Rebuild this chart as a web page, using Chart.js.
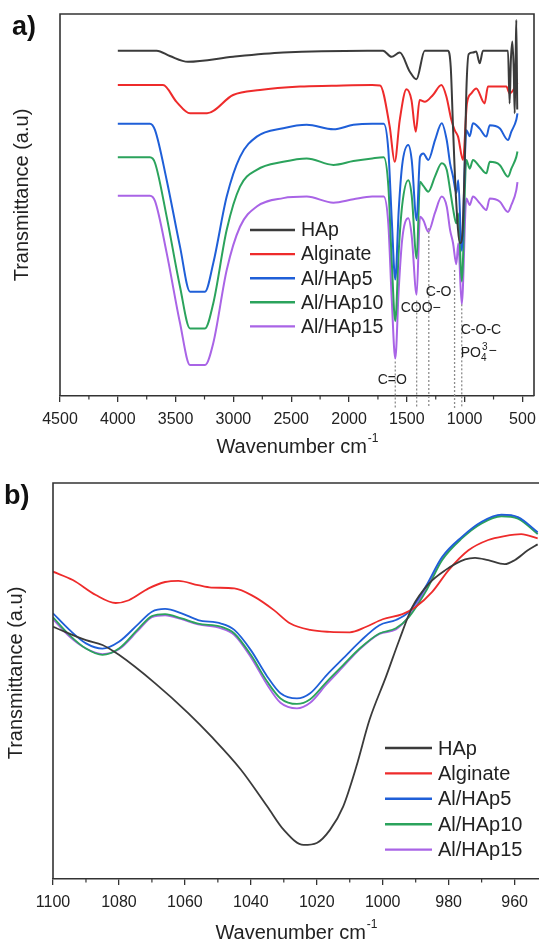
<!DOCTYPE html>
<html>
<head>
<meta charset="utf-8">
<title>FTIR spectra</title>
<script src="https://cdn.jsdelivr.net/npm/chart.js@4.4.1/dist/chart.umd.min.js"></script>
<style>
  html, body { margin: 0; padding: 0; background: #fff; overflow: hidden; }
  body { width: 539px; height: 944px; position: relative; }
  .panel { position: absolute; left: 0; width: 539px; }
  #panelA { top: 0; height: 460px; }
  #panelB { top: 460px; height: 484px; }
</style>
</head>
<body>
<div class="panel" id="panelA"><canvas id="chartA"></canvas></div>
<div class="panel" id="panelB"><canvas id="chartB"></canvas></div>
<script>
// series names + colours (same in both panels)
const seriesNames = ['HAp', 'Alginate', 'Al/HAp5', 'Al/HAp10', 'Al/HAp15'];
const seriesColors = ['#3b3b3b', '#ee2b2b', '#1f5fd8', '#2ba35c', '#a964e6'];

// ---- panel a: full spectra, wavenumber (cm-1) vs transmittance (a.u.) ----
const hapWaveA = [4000, 3664, 3550, 3393, 3003, 2571, 1844, 1706, 1633, 1561,
  1474, 1417, 1345, 1144, 1120, 1100, 1075, 1040, 1020, 1000,
  985, 965, 928, 900, 870, 841, 625, 611, 600, 587,
  575, 567, 558, 553, 545];
const hapValA = [90.4, 90.4, 89.0, 87.5, 88.8, 89.9, 90.4, 90.4, 88.8, 89.9,
  84.9, 82.9, 90.4, 90.4, 86, 70, 52, 40, 42, 60,
  80, 89.5, 89.9, 90.2, 87.1, 90.4, 90.4, 76.6, 88, 92.8,
  85, 74, 90, 98.4, 75];

const algWaveA = [4000, 3609, 3492, 3375, 3228, 3003, 2770, 2424, 2150, 1800,
  1732, 1648, 1605, 1561, 1503, 1460, 1423, 1389, 1345, 1274,
  1201, 1158, 1115, 1086, 1057, 1014, 980, 942, 899, 827,
  798, 639, 611, 553, 543];
const algValA = [81.4, 81.4, 77.0, 74.0, 74.0, 78.8, 80.1, 81.0, 81.2, 81.4,
  81.3, 70.5, 61.3, 72.3, 80.3, 77.5, 69.2, 77.5, 77.0, 78.8,
  81.4, 78.4, 72.3, 69.6, 67.9, 61.8, 76.6, 79.2, 80.5, 76.6,
  81.0, 81.0, 79.2, 81.4, 82];

// composites share one wavenumber grid
const compWaveA = [4000, 3722, 3678, 3577, 3462, 3375, 3246, 3174, 3058, 2943,
  2798, 2569, 2366, 2135, 1962, 1800, 1700, 1660, 1630, 1600,
  1570, 1540, 1487, 1458, 1415, 1386, 1357, 1314, 1256, 1198,
  1155, 1126, 1100, 1072, 1055, 1025, 985, 956, 928, 870,
  812, 783, 697, 625, 596, 553, 543];
const ap5ValA = [71.3, 71.3, 69.6, 56.5, 39.1, 27.3, 27.3, 34.8, 52.2, 62.6,
  67.9, 70.1, 71.0, 69.8, 71.0, 71.3, 71.3, 64.4, 46, 30.5,
  48.7, 60.5, 65.7, 61.8, 46.0, 62.6, 63.5, 61.8, 67.0, 71.4,
  67.0, 60.9, 57.4, 53.1, 56.5, 38, 69.6, 68, 71.4, 70,
  67.9, 70.9, 70.1, 67.0, 69.2, 72.3, 74];
const ap10ValA = [62.5, 62.5, 61, 46.9, 28.6, 17.7, 17.7, 24.3, 43.5, 54.8,
  59.2, 61.3, 62.2, 60.5, 61.5, 62.2, 62.5, 55, 35, 19.6,
  38, 50, 56.5, 52.5, 36, 56.1, 55, 53.5, 57.5, 60.9,
  59.2, 54, 49, 45.2, 47.8, 30, 61.8, 59.5, 61.8, 60,
  58.3, 61.3, 60.5, 57.4, 59.5, 62.6, 64];
const ap15ValA = [52.4, 52.4, 51, 37.4, 19.1, 8.1, 8.1, 13.9, 33.0, 44.3,
  49.6, 51.8, 52.2, 50.6, 51.5, 52.2, 52.2, 45, 25, 9.8,
  28, 41, 46.5, 42, 26.5, 46.9, 46, 43, 48, 52.2,
  49.6, 43.5, 40, 34.5, 40, 24, 51.7, 50, 52.2, 50.5,
  48.7, 51.7, 50.9, 48.2, 50, 53.9, 56];

const ticksA = [4500, 4000, 3500, 3000, 2500, 2000, 1500, 1000, 500];
const minorTicksA = [4250, 3750, 3250, 2750, 2250, 1750, 1250, 750];

// assigned bands (dotted markers)
const peakWaves = [1600, 1415, 1310, 1087, 1025];
const peakTops = [9, 25, 44, 33, 24];

// ---- panel b: zoom 1100-950 cm-1 ----
const hapWaveB = [1100, 1090, 1085, 1080, 1069, 1059, 1052, 1043, 1035, 1030,
  1024, 1020, 1016, 1012, 1008, 1004, 999, 995, 991, 986,
  981, 975, 972, 968, 963, 960, 956, 953];
const hapValB = [63.7, 60.3, 59.1, 56.6, 49.4, 41.9, 36.0, 27.6, 18.3, 12.4,
  8.6, 9.1, 12.4, 18.3, 28.4, 40.2, 51.1, 60.3, 68.7, 74.6,
  78.0, 80.7, 81.1, 80.5, 79.5, 80.5, 83.0, 84.5];

const algWaveB = [1100, 1094, 1087, 1081, 1077, 1071, 1066, 1062, 1056, 1052,
  1045, 1039, 1033, 1028, 1022, 1016, 1010, 1005, 1000, 994,
  990, 985, 980, 974, 968, 963, 958, 953];
const algValB = [77.6, 75.5, 71.7, 69.7, 70.4, 73.4, 75.0, 75.3, 74.2, 73.6,
  73.4, 71.3, 67.9, 64.5, 62.9, 62.4, 62.3, 63.7, 65.6, 66.9,
  68.7, 72.5, 78.0, 83.0, 85.6, 86.6, 87.1, 86.0];

const compWaveB = [1100, 1095, 1090, 1085, 1080, 1074, 1070, 1066, 1061, 1056,
  1049, 1045, 1040, 1035, 1031, 1026, 1022, 1017, 1012, 1007,
  1001, 996, 992, 987, 982, 976, 970, 964, 959, 953];
const ap5ValB = [67.1, 62.9, 59.5, 58.2, 59.9, 64.5, 67.5, 68.2, 67.1, 65.4,
  64.5, 62.9, 57.8, 51.1, 46.9, 45.6, 46.9, 51.5, 55.7, 59.9,
  64.1, 65.4, 67.5, 73.8, 81.3, 86.4, 90.2, 92.0, 91.4, 87.6];
const ap10ValB = [66.1, 61.6, 58.2, 56.6, 58.2, 63.3, 66.4, 66.9, 65.8, 64.5,
  63.7, 62.0, 56.6, 49.8, 45.6, 44.2, 45.4, 49.8, 54.0, 58.2,
  62.0, 63.3, 66.2, 72.5, 80.5, 86.0, 89.8, 91.6, 91.0, 87.1];
const ap15ValB = [65.6, 61.2, 58.2, 56.8, 58.0, 62.9, 66.1, 66.6, 65.6, 64.3,
  63.3, 61.6, 56.0, 49.0, 44.5, 43.1, 44.5, 49.2, 53.6, 58.0,
  61.9, 63.0, 66.4, 73.1, 80.9, 86.2, 90.0, 91.9, 91.3, 87.2];

const ticksB = [1100, 1080, 1060, 1040, 1020, 1000, 980, 960];
const minorTicksB = [1090, 1070, 1050, 1030, 1010, 990, 970];

// ---------------------------------------------------------------
const FONT = "'Liberation Sans', Arial, sans-serif";
Chart.defaults.font.family = FONT;
Chart.defaults.color = '#222';

function pairs(xs, ys) {
    return xs.map((w, i) => ({ x: w, y: ys[i] }));
}

function makeDatasets(list, width) {
    return list.map((pts, i) => ({
        label: seriesNames[i],
        data: pts,
        borderColor: seriesColors[i],
        backgroundColor: seriesColors[i],
        borderWidth: width,
        pointRadius: 0,
        fill: false,
        cubicInterpolationMode: 'monotone'
    }));
}

// frame, minor ticks, titles, legend, panel letter
function decorPlugin(opts) {
    return {
        id: 'decor',
        afterDraw(chart) {
            const { ctx, chartArea: ca, scales: { x } } = chart;
            ctx.save();
            ctx.strokeStyle = '#333';
            ctx.lineWidth = 1.6;
            ctx.beginPath();
            ctx.moveTo(ca.left, ca.bottom);
            ctx.lineTo(ca.left, ca.top);
            ctx.lineTo(ca.right, ca.top);
            if (opts.rightBorder) ctx.lineTo(ca.right, ca.bottom);
            ctx.stroke();

            // minor ticks
            ctx.lineWidth = 1.2;
            opts.minor.forEach(v => {
                const px = x.getPixelForValue(v);
                ctx.beginPath();
                ctx.moveTo(px, ca.bottom);
                ctx.lineTo(px, ca.bottom + 3.5);
                ctx.stroke();
            });

            // x title with superscript
            ctx.fillStyle = '#222';
            ctx.textBaseline = 'middle';
            ctx.textAlign = 'left';
            const main = 'Wavenumber cm';
            const sup = '-1';
            ctx.font = '20px ' + FONT;
            const mw = ctx.measureText(main).width;
            ctx.font = '12px ' + FONT;
            const sw = ctx.measureText(sup).width;
            const cx = (ca.left + opts.titleRight) / 2;
            const sx = cx - (mw + sw) / 2;
            ctx.font = '20px ' + FONT;
            ctx.fillText(main, sx, opts.xTitleY);
            ctx.font = '12px ' + FONT;
            ctx.fillText(sup, sx + mw + 1, opts.xTitleY - 8);

            // y title
            ctx.save();
            ctx.translate(opts.yTitleX, opts.yTitleY);
            ctx.rotate(-Math.PI / 2);
            ctx.textAlign = 'center';
            ctx.font = '20px ' + FONT;
            ctx.fillText('Transmittance (a.u)', 0, 0);
            ctx.restore();

            // panel letter
            ctx.font = 'bold 27px ' + FONT;
            ctx.fillStyle = '#111';
            ctx.fillText(opts.letter, opts.letterX, opts.letterY);

            // legend
            const lg = opts.legend;
            chart.data.datasets.forEach((ds, i) => {
                const ly = lg.y + i * lg.dy;
                ctx.strokeStyle = ds.borderColor;
                ctx.lineWidth = 2.4;
                ctx.beginPath();
                ctx.moveTo(lg.x, ly);
                ctx.lineTo(lg.x + lg.len, ly);
                ctx.stroke();
                ctx.fillStyle = '#222';
                ctx.font = lg.size + 'px ' + FONT;
                ctx.textAlign = 'left';
                ctx.fillText(ds.label, lg.x + lg.len + 6, ly + 1);
            });
            ctx.restore();
        }
    };
}

// dotted band markers + assignments (panel a only)
const peakPlugin = {
    id: 'peaks',
    afterDatasetsDraw(chart) {
        const { ctx, chartArea: ca, scales: { x, y } } = chart;
        ctx.save();
        ctx.strokeStyle = '#8c8c8c';
        ctx.lineWidth = 1.3;
        ctx.setLineDash([2, 2]);
        peakWaves.forEach((w, i) => {
            const px = x.getPixelForValue(w);
            ctx.beginPath();
            ctx.moveTo(px, y.getPixelForValue(peakTops[i]));
            ctx.lineTo(px, ca.bottom + 12);
            ctx.stroke();
        });
        ctx.setLineDash([]);

        ctx.fillStyle = '#222';
        ctx.font = '14px ' + FONT;
        ctx.textBaseline = 'middle';
        ctx.textAlign = 'center';
        ctx.fillText('C=O', x.getPixelForValue(peakWaves[0]) - 3, y.getPixelForValue(4.2));
        ctx.textAlign = 'left';
        ctx.fillText('COO\u2212', x.getPixelForValue(peakWaves[1]) - 16, y.getPixelForValue(22.9));
        ctx.fillText('C-O', x.getPixelForValue(peakWaves[2]) - 3, y.getPixelForValue(27.2));
        const lx = x.getPixelForValue(peakWaves[4]) - 1;
        ctx.fillText('C-O-C', lx, y.getPixelForValue(17.3));
        const py = y.getPixelForValue(11.1);
        ctx.fillText('PO', lx, py);
        const pw = ctx.measureText('PO').width;
        ctx.font = '10px ' + FONT;
        ctx.fillText('4', lx + pw, py + 5);
        ctx.fillText('3', lx + pw + 1, py - 6);
        const sw = ctx.measureText('3').width;
        ctx.font = '14px ' + FONT;
        ctx.fillText('\u2212', lx + pw + sw + 2, py - 2);
        ctx.restore();
    }
};

function xScale(min, max, ticks, height) {
    return {
        type: 'linear',
        reverse: true,
        min: min,
        max: max,
        afterBuildTicks: s => { s.ticks = ticks.map(v => ({ value: v })); },
        afterFit: s => { s.height = height; },
        ticks: {
            font: { size: 16, lineHeight: 1.8 },
            color: '#222',
            padding: 3,
            maxRotation: 0,
            autoSkip: false,
            callback: v => String(v)
        },
        grid: { drawOnChartArea: false, tickLength: 6, color: '#333', lineWidth: 1.3 },
        border: { display: true, color: '#333', width: 1.6 }
    };
}

function baseOptions(padding, xs) {
    return {
        responsive: true,
        maintainAspectRatio: false,
        animation: false,
        devicePixelRatio: 1,
        layout: { padding: padding },
        plugins: { legend: { display: false }, tooltip: { enabled: false } },
        scales: {
            x: xs,
            y: { display: false, min: 0, max: 100 }
        }
    };
}

new Chart(document.getElementById('chartA'), {
    type: 'line',
    data: {
        datasets: makeDatasets([
            pairs(hapWaveA, hapValA),
            pairs(algWaveA, algValA),
            pairs(compWaveA, ap5ValA),
            pairs(compWaveA, ap10ValA),
            pairs(compWaveA, ap15ValA)
        ], 2)
    },
    options: baseOptions({ left: 60, right: 5, top: 14, bottom: 0 }, xScale(400, 4500, ticksA, 64)),
    plugins: [peakPlugin, decorPlugin({
        rightBorder: true, minor: minorTicksA, titleRight: 534,
        xTitleY: 447, yTitleX: 22, yTitleY: 195,
        letter: 'a)', letterX: 12, letterY: 28,
        legend: { x: 250, y: 230, dy: 24.1, len: 45, size: 19.5 }
    })]
});

new Chart(document.getElementById('chartB'), {
    type: 'line',
    data: {
        datasets: makeDatasets([
            pairs(hapWaveB, hapValB),
            pairs(algWaveB, algValB),
            pairs(compWaveB, ap5ValB),
            pairs(compWaveB, ap10ValB),
            pairs(compWaveB, ap15ValB)
        ], 1.8)
    },
    options: baseOptions({ left: 53, right: 0, top: 23, bottom: 0 }, xScale(952.6, 1100, ticksB, 65)),
    plugins: [decorPlugin({
        rightBorder: false, minor: minorTicksB, titleRight: 539,
        xTitleY: 473, yTitleX: 16, yTitleY: 213,
        letter: 'b)', letterX: 4, letterY: 37,
        legend: { x: 385, y: 288, dy: 25.4, len: 47, size: 20 }
    })]
});
</script>
</body>
</html>
